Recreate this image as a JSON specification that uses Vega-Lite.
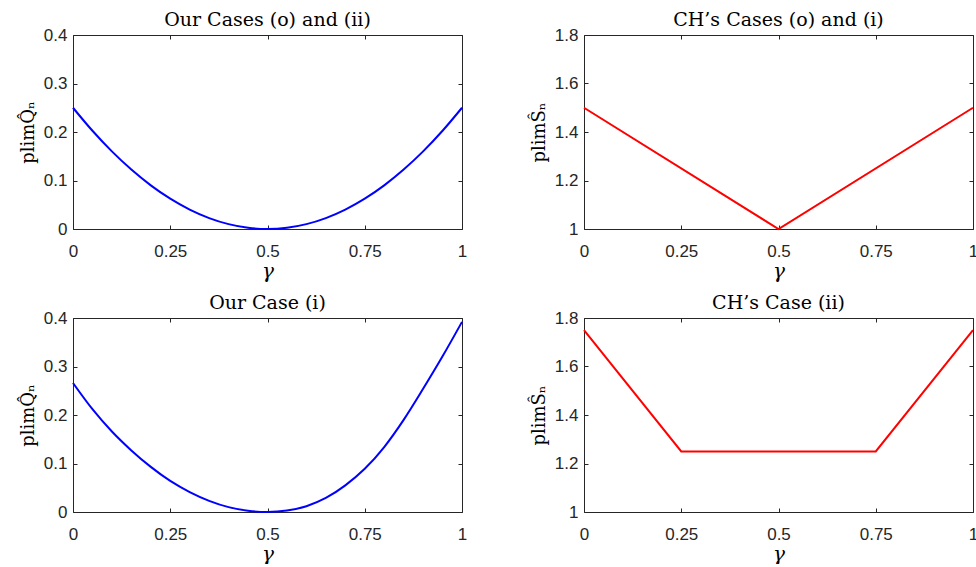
{
  "$schema": "https://vega.github.io/schema/vega-lite/v6.json",
  "background": "white",
  "padding": {"left": 19, "top": 11, "right": 0, "bottom": 0},
  "datasets": {
    "ourA": [
      {"g": 0, "v": 0.25}, {"g": 0.05, "v": 0.2025}, {"g": 0.1, "v": 0.16}, {"g": 0.15, "v": 0.1225},
      {"g": 0.2, "v": 0.09}, {"g": 0.25, "v": 0.0625}, {"g": 0.3, "v": 0.04}, {"g": 0.35, "v": 0.0225},
      {"g": 0.4, "v": 0.01}, {"g": 0.45, "v": 0.0025}, {"g": 0.5, "v": 0}, {"g": 0.55, "v": 0.0025},
      {"g": 0.6, "v": 0.01}, {"g": 0.65, "v": 0.0225}, {"g": 0.7, "v": 0.04}, {"g": 0.75, "v": 0.0625},
      {"g": 0.8, "v": 0.09}, {"g": 0.85, "v": 0.1225}, {"g": 0.9, "v": 0.16}, {"g": 0.95, "v": 0.2025},
      {"g": 1, "v": 0.25}
    ],
    "chA": [
      {"g": 0, "v": 1.5}, {"g": 0.5, "v": 1.0}, {"g": 1, "v": 1.5}
    ],
    "ourB": [
      {"g": 0, "v": 0.266}, {"g": 0.05, "v": 0.212}, {"g": 0.1, "v": 0.166}, {"g": 0.15, "v": 0.127},
      {"g": 0.2, "v": 0.093}, {"g": 0.25, "v": 0.064}, {"g": 0.3, "v": 0.041}, {"g": 0.35, "v": 0.023},
      {"g": 0.4, "v": 0.010}, {"g": 0.45, "v": 0.0025}, {"g": 0.5, "v": 0}, {"g": 0.55, "v": 0.003},
      {"g": 0.6, "v": 0.012}, {"g": 0.65, "v": 0.029}, {"g": 0.7, "v": 0.055}, {"g": 0.75, "v": 0.089},
      {"g": 0.8, "v": 0.134}, {"g": 0.85, "v": 0.190}, {"g": 0.9, "v": 0.254}, {"g": 0.95, "v": 0.321},
      {"g": 1, "v": 0.392}
    ],
    "chB": [
      {"g": 0, "v": 1.75}, {"g": 0.25, "v": 1.25}, {"g": 0.75, "v": 1.25}, {"g": 1, "v": 1.75}
    ]
  },
  "columns": 2,
  "spacing": {"row": 89, "column": 122},
  "bounds": "flush",
  "concat": [
    {
      "width": 389, "height": 194,
      "title": "Our Cases (o) and (ii)",
      "data": {"name": "ourA"},
      "layer": [
        {
          "mark": {"type": "line", "color": "#0000ff", "strokeWidth": 2, "interpolate": "monotone"},
          "encoding": {
            "x": {"field": "g", "type": "quantitative", "scale": {"domain": [0, 1], "nice": false},
                  "axis": {"orient": "bottom", "values": [0, 0.25, 0.5, 0.75, 1], "labelExpr": "'' + datum.value", "title": "γ"}},
            "y": {"field": "v", "type": "quantitative", "scale": {"domain": [0, 0.4], "nice": false},
                  "axis": {"orient": "left", "values": [0, 0.1, 0.2, 0.3, 0.4], "labelExpr": "'' + datum.value", "title": "plimQ̂ₙ"}}
          }
        },
        {
          "mark": {"type": "line", "opacity": 0},
          "encoding": {
            "x": {"field": "g", "type": "quantitative", "axis": {"orient": "top", "values": [0, 0.25, 0.5, 0.75, 1], "labels": false, "title": null}},
            "y": {"field": "v", "type": "quantitative", "axis": {"orient": "right", "values": [0, 0.1, 0.2, 0.3, 0.4], "labels": false, "title": null}}
          }
        }
      ],
      "resolve": {"axis": {"x": "independent", "y": "independent"}}
    },
    {
      "width": 389, "height": 194,
      "title": "CH’s Cases (o) and (i)",
      "data": {"name": "chA"},
      "layer": [
        {
          "mark": {"type": "line", "color": "#ff0000", "strokeWidth": 2},
          "encoding": {
            "x": {"field": "g", "type": "quantitative", "scale": {"domain": [0, 1], "nice": false},
                  "axis": {"orient": "bottom", "values": [0, 0.25, 0.5, 0.75, 1], "labelExpr": "'' + datum.value", "title": "γ"}},
            "y": {"field": "v", "type": "quantitative", "scale": {"domain": [1, 1.8], "nice": false, "zero": false},
                  "axis": {"orient": "left", "values": [1, 1.2, 1.4, 1.6, 1.8], "labelExpr": "'' + datum.value", "title": "plimŜₙ"}}
          }
        },
        {
          "mark": {"type": "line", "opacity": 0},
          "encoding": {
            "x": {"field": "g", "type": "quantitative", "axis": {"orient": "top", "values": [0, 0.25, 0.5, 0.75, 1], "labels": false, "title": null}},
            "y": {"field": "v", "type": "quantitative", "axis": {"orient": "right", "values": [1, 1.2, 1.4, 1.6, 1.8], "labels": false, "title": null}}
          }
        }
      ],
      "resolve": {"axis": {"x": "independent", "y": "independent"}}
    },
    {
      "width": 389, "height": 194,
      "title": "Our Case (i)",
      "data": {"name": "ourB"},
      "layer": [
        {
          "mark": {"type": "line", "color": "#0000ff", "strokeWidth": 2, "interpolate": "monotone"},
          "encoding": {
            "x": {"field": "g", "type": "quantitative", "scale": {"domain": [0, 1], "nice": false},
                  "axis": {"orient": "bottom", "values": [0, 0.25, 0.5, 0.75, 1], "labelExpr": "'' + datum.value", "title": "γ"}},
            "y": {"field": "v", "type": "quantitative", "scale": {"domain": [0, 0.4], "nice": false},
                  "axis": {"orient": "left", "values": [0, 0.1, 0.2, 0.3, 0.4], "labelExpr": "'' + datum.value", "title": "plimQ̂ₙ"}}
          }
        },
        {
          "mark": {"type": "line", "opacity": 0},
          "encoding": {
            "x": {"field": "g", "type": "quantitative", "axis": {"orient": "top", "values": [0, 0.25, 0.5, 0.75, 1], "labels": false, "title": null}},
            "y": {"field": "v", "type": "quantitative", "axis": {"orient": "right", "values": [0, 0.1, 0.2, 0.3, 0.4], "labels": false, "title": null}}
          }
        }
      ],
      "resolve": {"axis": {"x": "independent", "y": "independent"}}
    },
    {
      "width": 389, "height": 194,
      "title": "CH’s Case (ii)",
      "data": {"name": "chB"},
      "layer": [
        {
          "mark": {"type": "line", "color": "#ff0000", "strokeWidth": 2},
          "encoding": {
            "x": {"field": "g", "type": "quantitative", "scale": {"domain": [0, 1], "nice": false},
                  "axis": {"orient": "bottom", "values": [0, 0.25, 0.5, 0.75, 1], "labelExpr": "'' + datum.value", "title": "γ"}},
            "y": {"field": "v", "type": "quantitative", "scale": {"domain": [1, 1.8], "nice": false, "zero": false},
                  "axis": {"orient": "left", "values": [1, 1.2, 1.4, 1.6, 1.8], "labelExpr": "'' + datum.value", "title": "plimŜₙ"}}
          }
        },
        {
          "mark": {"type": "line", "opacity": 0},
          "encoding": {
            "x": {"field": "g", "type": "quantitative", "axis": {"orient": "top", "values": [0, 0.25, 0.5, 0.75, 1], "labels": false, "title": null}},
            "y": {"field": "v", "type": "quantitative", "axis": {"orient": "right", "values": [1, 1.2, 1.4, 1.6, 1.8], "labels": false, "title": null}}
          }
        }
      ],
      "resolve": {"axis": {"x": "independent", "y": "independent"}}
    }
  ],
  "config": {
    "view": {"stroke": null},
    "axis": {
      "grid": false,
      "domainColor": "#262626", "domainWidth": 1,
      "tickColor": "#262626", "tickWidth": 1, "tickSize": -4,
      "labelColor": "#262626", "labelFont": "Liberation Sans", "labelFontSize": 17,
      "labelFlush": false, "labelOverlap": false, "labelBound": false,
      "titleFont": "DejaVu Serif", "titleFontSize": 18, "titleFontWeight": "normal", "titleColor": "#000000"
    },
    "axisBottom": {"labelPadding": 18, "titlePadding": 2, "titleFontStyle": "italic", "titleFontSize": 20},
    "axisLeft": {"labelPadding": 10, "titlePadding": 6},
    "title": {"font": "DejaVu Serif", "fontSize": 19, "fontWeight": "normal", "color": "#000000", "offset": -4}
  }
}
